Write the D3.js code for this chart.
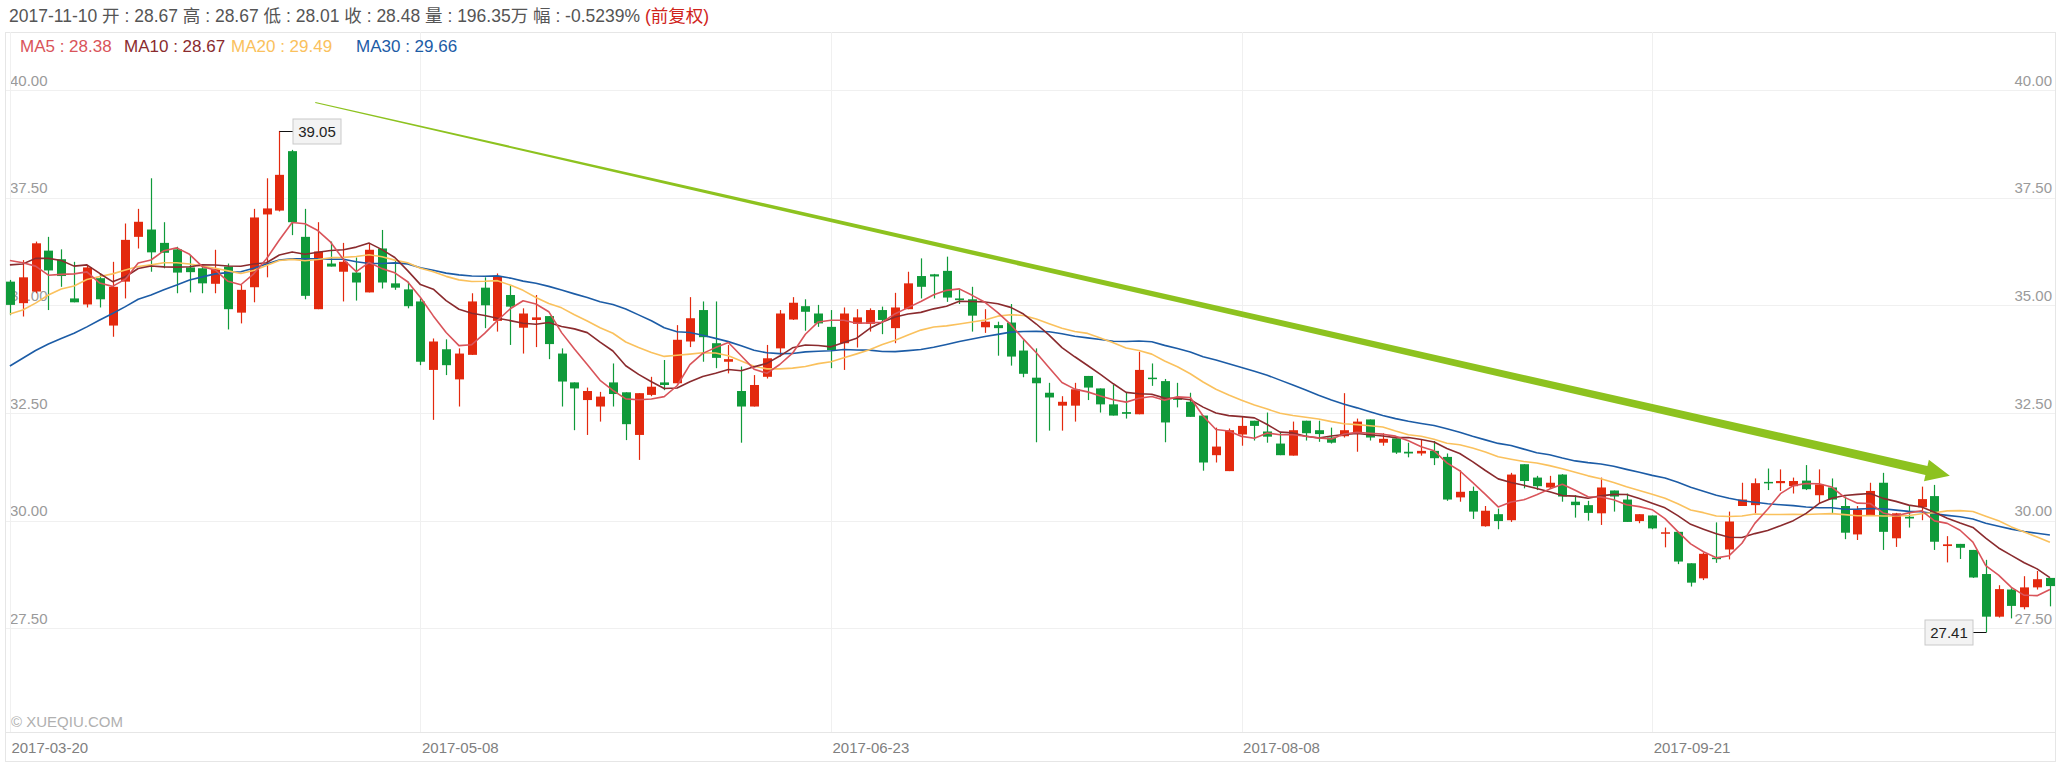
<!DOCTYPE html>
<html>
<head>
<meta charset="utf-8">
<script src="https://cdn.jsdelivr.net/npm/d3@7"></script>
<style>
html,body{margin:0;padding:0;background:#fff;}
svg{display:block;}
text{font-family:"Liberation Sans",Arial,"Noto Sans CJK SC",sans-serif;}
</style>
</head>
<body>
<svg id="chart" width="2060" height="765"></svg>
<script>
// ---------------- DATA ----------------
const openP = [35.55,35.05,35.32,36.27,36.07,35.16,35.02,35.63,34.53,35.55,36.59,36.76,36.45,36.30,35.88,35.86,35.50,35.90,34.83,35.42,
37.11,37.20,38.58,36.59,34.91,35.97,35.78,35.76,35.30,36.32,35.51,35.37,35.09,33.50,33.98,33.28,33.85,35.41,34.64,35.24,
34.48,34.66,34.75,33.88,33.21,32.80,32.65,33.21,32.98,31.99,32.92,33.21,33.19,34.16,34.89,34.12,33.69,33.01,32.65,33.34,
34.00,34.67,34.98,34.81,34.50,34.12,34.57,34.57,34.89,34.47,34.91,35.68,35.72,35.80,35.16,35.14,34.49,34.54,34.60,33.95,
33.32,32.97,32.67,32.67,33.36,33.07,32.70,32.52,32.47,33.32,33.24,32.84,32.76,32.44,31.52,31.15,32.00,32.32,32.07,31.79,
31.51,32.32,32.10,31.93,31.96,32.05,32.35,31.81,31.91,31.60,31.56,31.62,31.48,30.54,30.69,29.87,30.15,30.01,31.31,31.00,
30.77,31.07,30.44,30.36,30.17,30.70,30.49,29.99,30.12,29.70,29.74,29.01,28.66,29.14,29.33,30.34,30.36,30.90,30.87,30.80,
30.93,30.59,30.77,30.34,29.68,30.13,30.88,29.59,30.09,30.31,30.57,29.41,29.46,29.32,28.76,27.77,28.40,27.99,28.45,28.67];
const highP = [35.59,36.05,36.48,36.59,36.30,36.01,35.94,35.74,36.01,36.90,37.24,37.95,36.93,36.36,36.17,35.90,36.29,35.97,35.47,37.24,
37.95,39.05,38.61,37.24,36.93,36.48,36.45,36.11,36.45,36.75,36.05,35.55,35.16,34.23,34.21,34.00,35.28,35.65,35.74,35.47,
34.93,35.24,34.75,34.00,33.21,33.09,32.99,33.65,32.98,32.96,33.34,33.73,34.54,35.19,35.09,35.09,34.08,33.58,33.38,34.08,
34.89,35.19,35.14,35.01,34.89,34.95,34.91,34.93,34.97,35.29,35.78,36.09,35.73,36.13,35.37,35.43,34.91,34.62,35.03,34.19,
34.00,33.20,32.89,33.20,33.36,33.07,33.15,32.97,33.92,33.65,33.29,33.20,32.97,32.44,32.16,32.14,32.43,32.32,32.51,32.04,
32.30,32.32,32.32,32.16,32.96,32.37,32.35,32.03,31.91,31.81,31.89,31.85,31.56,31.17,30.79,30.34,30.28,31.11,31.31,31.04,
31.04,31.08,30.59,30.46,31.00,30.70,30.63,30.15,30.12,29.84,29.74,29.01,29.26,29.96,30.21,30.88,30.98,31.21,31.19,31.00,
31.29,31.19,30.98,30.56,30.34,30.88,31.11,30.18,30.36,30.79,30.83,29.64,29.46,29.32,29.09,28.50,28.43,28.71,28.83,28.67];
const lowP = [34.77,34.74,35.28,34.89,35.43,35.07,34.95,34.95,34.27,35.16,36.32,35.78,35.86,35.28,35.30,35.28,35.28,34.44,34.58,35.07,
35.65,37.18,36.63,35.14,34.91,35.90,35.09,35.11,35.30,35.39,35.36,34.93,33.61,32.34,33.38,32.65,33.85,34.47,34.39,34.08,
33.88,34.03,33.75,32.65,32.10,31.99,32.30,32.65,31.87,31.41,32.89,33.03,33.19,34.03,33.69,33.54,33.42,31.81,32.65,33.30,
33.81,34.66,34.41,34.50,33.54,33.50,34.02,34.39,34.33,34.12,34.91,35.16,35.16,35.08,35.03,34.39,34.36,33.83,33.60,33.33,
31.82,32.09,32.09,32.30,32.80,32.51,32.44,32.37,32.47,33.13,31.82,32.63,32.41,31.16,31.35,31.15,31.74,31.86,31.81,31.52,
31.51,31.86,31.83,31.79,31.93,31.60,31.86,31.74,31.55,31.47,31.51,31.29,30.46,30.44,30.04,29.86,29.80,29.97,30.75,30.71,
30.75,30.44,30.07,30.00,29.90,30.21,29.97,29.94,29.80,29.38,28.99,28.47,28.62,29.02,29.10,30.34,30.17,30.71,30.69,30.63,
30.71,30.40,30.18,29.57,29.55,30.11,29.32,29.39,29.84,30.01,29.32,29.03,29.11,28.67,27.41,27.75,27.73,27.94,28.40,28.01];
const closeP = [35.01,35.65,36.44,35.81,35.68,35.07,35.88,35.14,35.43,36.52,36.94,36.23,36.22,35.76,35.77,35.51,35.84,34.91,35.36,37.04,
37.25,38.03,36.93,35.22,36.25,35.90,36.01,35.53,36.29,35.53,35.41,34.98,33.69,34.16,33.61,33.88,35.09,35.00,35.66,34.97,
34.81,34.72,34.10,33.23,33.07,33.01,32.88,32.94,32.24,32.96,33.11,33.15,34.20,34.70,34.26,33.78,33.75,32.65,33.15,33.77,
34.81,35.06,34.85,34.58,33.96,34.81,34.72,34.89,34.66,34.95,35.51,35.43,35.67,35.18,35.12,34.76,34.62,34.47,33.81,33.41,
33.19,32.86,32.76,33.05,33.09,32.70,32.44,32.48,33.50,33.29,32.28,32.82,32.41,31.35,31.72,32.10,32.20,32.20,31.95,31.52,
32.10,32.03,32.01,31.81,32.10,32.30,31.93,31.90,31.58,31.56,31.62,31.45,30.49,30.67,30.21,30.23,29.99,31.07,30.92,30.80,
30.88,30.56,30.36,30.18,30.77,30.56,29.97,30.15,29.82,29.73,29.05,28.56,29.23,29.11,29.98,30.49,30.87,30.87,30.92,30.92,
30.73,30.84,30.49,29.72,30.25,30.69,29.74,30.17,30.05,30.50,29.51,29.45,29.37,28.68,27.77,28.41,28.02,28.45,28.64,28.48];

// moving-average values for days before each window is complete
const ma5Head  = [36.04,35.99,35.91,35.70];
const ma10Head = [35.94,35.96,36.09,36.09,36.04,35.91,35.94,35.74,35.55];
const ma20Head = [34.80,34.89,35.05,35.24,35.38,35.45,35.60,35.67,35.73,35.82,35.90,35.94,35.99,35.99,35.96,35.91,35.86,35.80,35.74];
const ma30Head = [33.59,33.77,33.95,34.10,34.23,34.35,34.50,34.66,34.81,34.97,35.14,35.24,35.36,35.47,35.59,35.66,35.73,35.76,35.78,35.86,
35.96,36.05,36.08,36.08,36.08,36.07,36.07,36.01,35.97];

const dateTickIndex = [0,32,64,96,128];
const dateTickLabels = ["2017-03-20","2017-05-08","2017-06-23","2017-08-08","2017-09-21"];
const priceTicks = [27.5,30,32.5,35,37.5,40];

const lastDate = "2017-11-10";
const lastVolume = "196.35万";
const lastChange = "-0.5239%";
const maNames = ["MA5","MA10","MA20","MA30"];
const maLegendValues = [28.38,28.67,29.49,29.66];

// trend arrow annotation (day index, price)
const arrowFrom = [23.8, 39.71];
const arrowTo   = [151.2, 31.04];

// ---------------- STYLE ----------------
const RED = "#e3290e", GREEN = "#0f9a3a";
const maColors = ["#d9545a","#8a2b2e","#fac15d","#1c5ca6"];
const GRID = "#f0f0f0", BORDER = "#e6e6e6";

const svg = d3.select("#chart");
svg.append("rect").attr("width",2060).attr("height",765).attr("fill","#fff");

const n = closeP.length;
const x = d3.scaleLinear().domain([0, n-1]).range([9.9, 2049.9]);
const y = d3.scaleLinear().domain([27.5, 40]).range([628.3, 90]);

// borders
const frame = svg.append("g").attr("stroke",BORDER).attr("stroke-width",1).attr("shape-rendering","crispEdges");
frame.append("line").attr("x1",5).attr("x2",2055).attr("y1",32.5).attr("y2",32.5);
frame.append("line").attr("x1",5).attr("x2",2055).attr("y1",732.5).attr("y2",732.5);
frame.append("line").attr("x1",5).attr("x2",2055).attr("y1",761.5).attr("y2",761.5);
frame.append("line").attr("x1",5.5).attr("x2",5.5).attr("y1",32).attr("y2",762);
frame.append("line").attr("x1",2055.5).attr("x2",2055.5).attr("y1",32).attr("y2",762);

// horizontal grid + left labels
const gyL = svg.append("g").attr("transform","translate(6,0)")
  .call(d3.axisRight(y).tickValues(priceTicks).tickSize(2049).tickFormat(d3.format(".2f")));
gyL.select(".domain").remove();
gyL.selectAll("line").attr("stroke",GRID).attr("shape-rendering","crispEdges");
gyL.selectAll("text").attr("x",4).attr("dy","-0.32em").attr("text-anchor","start")
  .attr("fill","#9a9a9a").style("font-size","15px");

// right labels
const gyR = svg.append("g").attr("transform","translate(2052,0)")
  .call(d3.axisLeft(y).tickValues(priceTicks).tickSize(0).tickFormat(d3.format(".2f")));
gyR.select(".domain").remove();
gyR.selectAll("text").attr("x",0).attr("dy","-0.32em").attr("text-anchor","end")
  .attr("fill","#9a9a9a").style("font-size","15px");

// vertical grid + date labels
const gx = svg.append("g").attr("transform","translate(0,732)")
  .call(d3.axisBottom(x).tickValues(dateTickIndex).tickSize(-700)
    .tickFormat((d,i)=>dateTickLabels[i]));
gx.select(".domain").remove();
gx.selectAll("line").attr("stroke",GRID).attr("shape-rendering","crispEdges");
gx.selectAll("text").attr("x",1).attr("y",21).attr("dy",0).attr("text-anchor","start")
  .attr("fill","#808080").style("font-size","15px");

// watermark
svg.append("text").attr("x",11).attr("y",727).attr("fill","#b0b0b0")
  .style("font-size","15px").text("© XUEQIU.COM");

// header
const head = svg.append("text").attr("x",9).attr("y",22).style("font-size","17.5px").attr("fill","#555");
head.append("tspan").text(`${lastDate} 开 : ${openP[n-1].toFixed(2)} 高 : ${highP[n-1].toFixed(2)} 低 : ${lowP[n-1].toFixed(2)} 收 : ${closeP[n-1].toFixed(2)} 量 : ${lastVolume} 幅 : ${lastChange} `);
head.append("tspan").attr("fill","#d0241b").text("(前复权)");

const legX = [20,124,231,356];
maNames.forEach((nm,k)=>{
  svg.append("text").attr("x",legX[k]).attr("y",52).style("font-size","17px")
    .attr("fill",maColors[k]).text(`${nm} : ${maLegendValues[k].toFixed(2)}`);
});

// candles
const cg = svg.append("g");
const bodyW = 9;
for (let i=0;i<n;i++){
  const o=openP[i], c=closeP[i], up = c>=o;
  const col = up?RED:GREEN;
  const cx = Math.round(x(i))+0.5;
  cg.append("line").attr("x1",cx).attr("x2",cx).attr("y1",y(highP[i])).attr("y2",y(lowP[i]))
    .attr("stroke",col).attr("stroke-width",1.2);
  const top = y(Math.max(o,c)), bot = y(Math.min(o,c));
  cg.append("rect").attr("x",cx-bodyW/2).attr("y",top).attr("width",bodyW)
    .attr("height",Math.max(1.5,bot-top)).attr("fill",col);
}

// moving averages
function movingAvg(win, headVals){
  return closeP.map((c,i)=> i < win-1 ? headVals[i] : d3.mean(closeP.slice(i-win+1,i+1)));
}
const maSeries = [movingAvg(5,ma5Head),movingAvg(10,ma10Head),movingAvg(20,ma20Head),movingAvg(30,ma30Head)];
const line = d3.line().x((d,i)=>x(i)).y(d=>y(d));
[3,2,1,0].forEach(k=>{
  svg.append("path").attr("d",line(maSeries[k])).attr("fill","none")
    .attr("stroke",maColors[k]).attr("stroke-width",1.6).attr("stroke-linejoin","round");
});

// trend arrow
(function(){
  const p0=[x(arrowFrom[0]),y(arrowFrom[1])], p1=[x(arrowTo[0]),y(arrowTo[1])];
  const dx=p1[0]-p0[0], dy=p1[1]-p0[1], L=Math.hypot(dx,dy);
  const u=[dx/L,dy/L], nn=[-u[1],u[0]];
  const headLen=24, headHalf=11, w0=0.6, w1=4.5;
  const b=[p1[0]-u[0]*headLen, p1[1]-u[1]*headLen];
  const pts=[
    [p0[0]+nn[0]*w0,p0[1]+nn[1]*w0],
    [b[0]+nn[0]*w1,b[1]+nn[1]*w1],
    [b[0]+nn[0]*headHalf,b[1]+nn[1]*headHalf],
    p1,
    [b[0]-nn[0]*headHalf,b[1]-nn[1]*headHalf],
    [b[0]-nn[0]*w1,b[1]-nn[1]*w1],
    [p0[0]-nn[0]*w0,p0[1]-nn[1]*w0]
  ];
  svg.append("path").attr("d","M"+pts.map(p=>p.join(",")).join("L")+"Z").attr("fill","#8dc21f");
})();

// max / min labels
function markLabel(i, val, side){
  const cx = Math.round(x(i))+0.5, cy = Math.round(y(val))+0.5;
  const bw=48, bh=25;
  const bx = side>0 ? cx+13.5 : cx-13.5-bw;
  svg.append("line").attr("x1",cx).attr("x2",side>0?bx:bx+bw).attr("y1",cy).attr("y2",cy)
    .attr("stroke","#111").attr("stroke-width",1);
  svg.append("rect").attr("x",bx).attr("y",cy-bh/2).attr("width",bw).attr("height",bh)
    .attr("fill","#f3f3f3").attr("stroke","#c9c9c9");
  svg.append("text").attr("x",bx+bw/2).attr("y",cy+5.5).attr("text-anchor","middle")
    .style("font-size","15px").attr("fill","#222").text(val.toFixed(2));
}
const iMax = d3.maxIndex(highP), iMin = d3.minIndex(lowP);
markLabel(iMax, highP[iMax], 1);
markLabel(iMin, lowP[iMin], -1);
</script>
</body>
</html>
